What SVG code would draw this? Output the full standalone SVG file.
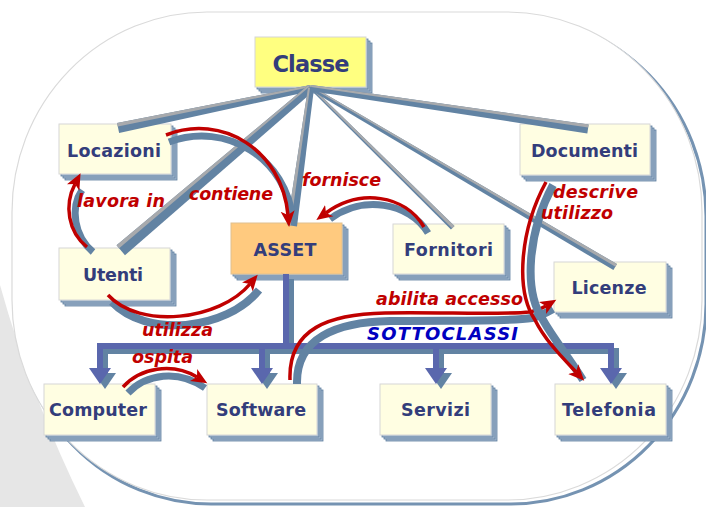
<svg xmlns="http://www.w3.org/2000/svg" width="706" height="507" viewBox="0 0 706 507">
<style>
.nb{fill:#fffee2;stroke:#d6d6d6;stroke-width:1}
.ns{fill:#a3b8cf;stroke:#5d7e9e;stroke-width:0.8}
.nt{font-family:"DejaVu Sans",Verdana,sans-serif;font-weight:bold;font-size:17.5px;fill:#333d7b;text-anchor:middle}
.rl{font-family:"DejaVu Sans",Verdana,sans-serif;font-weight:bold;font-style:italic;font-size:17.5px;fill:#c00000}
.rb{fill:#6283a3}
.rg{fill:#a8aaad}
.rd{fill:none;stroke:#c00000;stroke-width:3.5}
.sd{fill:none;stroke:#6283a3;stroke-width:7}
</style>
<defs>
<marker id="ah" markerUnits="userSpaceOnUse" markerWidth="18" markerHeight="16" viewBox="0 0 18 16" refX="4" refY="8" orient="auto">
<path d="M0,1 L16,8 L0,15 L4,8 Z" fill="#c00000"/>
</marker>
</defs>
<rect width="706" height="507" fill="#ffffff"/>
<path d="M0,285 Q32,400 85,507 L0,507 Z" fill="#e6e6e6"/>
<rect x="16" y="16" width="690" height="488" rx="195" ry="200" fill="none" stroke="#7593b2" stroke-width="3"/>
<rect x="12" y="12" width="690" height="488" rx="195" ry="200" fill="#ffffff" stroke="#dadada" stroke-width="1.2"/>

<g id="node-classe">
<rect class="ns" x="261" y="43" width="111" height="50"/><rect class="ns" x="259" y="41" width="111" height="50"/><rect class="ns" x="257" y="39" width="111" height="50"/>
<rect x="255" y="37" width="111" height="50" fill="#ffff80" stroke="#d6d6d6"/>
<text class="nt" x="311" y="72" style="font-size:22.5px" textLength="77">Classe</text>
</g>
<g id="node-locazioni">
<rect class="ns" x="65" y="130" width="112" height="50"/><rect class="ns" x="63" y="128" width="112" height="50"/><rect class="ns" x="61" y="126" width="112" height="50"/>
<rect class="nb" x="59" y="124" width="112" height="50"/>
<text class="nt" x="114" y="157" textLength="94">Locazioni</text>
</g>
<g id="node-utenti">
<rect class="ns" x="65" y="254" width="111" height="52"/><rect class="ns" x="63" y="252" width="111" height="52"/><rect class="ns" x="61" y="250" width="111" height="52"/>
<rect class="nb" x="59" y="248" width="111" height="52"/>
<text class="nt" x="113" y="281" textLength="60">Utenti</text>
</g>
<g id="node-asset">
<rect class="ns" x="237" y="229" width="111" height="51"/><rect class="ns" x="235" y="227" width="111" height="51"/><rect class="ns" x="233" y="225" width="111" height="51"/>
<rect x="231" y="223" width="111" height="51" fill="#ffca7f" stroke="#e0c090"/>
<text class="nt" x="285" y="256" textLength="63">ASSET</text>
</g>
<g id="node-fornitori">
<rect class="ns" x="399" y="230" width="111" height="50"/><rect class="ns" x="397" y="228" width="111" height="50"/><rect class="ns" x="395" y="226" width="111" height="50"/>
<rect class="nb" x="393" y="224" width="111" height="50"/>
<text class="nt" x="448.5" y="256" textLength="89">Fornitori</text>
</g>
<g id="node-documenti">
<rect class="ns" x="526" y="130" width="130" height="51"/><rect class="ns" x="524" y="128" width="130" height="51"/><rect class="ns" x="522" y="126" width="130" height="51"/>
<rect class="nb" x="520" y="124" width="130" height="51"/>
<text class="nt" x="584.5" y="157" textLength="107">Documenti</text>
</g>
<g id="node-licenze">
<rect class="ns" x="560" y="268" width="112" height="50"/><rect class="ns" x="558" y="266" width="112" height="50"/><rect class="ns" x="556" y="264" width="112" height="50"/>
<rect class="nb" x="554" y="262" width="112" height="50"/>
<text class="nt" x="609" y="294" textLength="75">Licenze</text>
</g>
<g id="node-computer">
<rect class="ns" x="50" y="390" width="111" height="51"/><rect class="ns" x="48" y="388" width="111" height="51"/><rect class="ns" x="46" y="386" width="111" height="51"/>
<rect class="nb" x="44" y="384" width="111" height="51"/>
<text class="nt" x="98" y="416" textLength="98">Computer</text>
</g>
<g id="node-software">
<rect class="ns" x="213" y="390" width="110" height="51"/><rect class="ns" x="211" y="388" width="110" height="51"/><rect class="ns" x="209" y="386" width="110" height="51"/>
<rect class="nb" x="207" y="384" width="110" height="51"/>
<text class="nt" x="261" y="416" textLength="90">Software</text>
</g>
<g id="node-servizi">
<rect class="ns" x="386" y="390" width="111" height="51"/><rect class="ns" x="384" y="388" width="111" height="51"/><rect class="ns" x="382" y="386" width="111" height="51"/>
<rect class="nb" x="380" y="384" width="111" height="51"/>
<text class="nt" x="435.5" y="416" textLength="69">Servizi</text>
</g>
<g id="node-telefonia">
<rect class="ns" x="561" y="390" width="111" height="51"/><rect class="ns" x="559" y="388" width="111" height="51"/><rect class="ns" x="557" y="386" width="111" height="51"/>
<rect class="nb" x="555" y="384" width="111" height="51"/>
<text class="nt" x="609" y="416" textLength="94">Telefonia</text>
</g>

<g id="connectors">
<g id="ray-locazioni" transform="translate(311,88) rotate(168.29)"><polygon class="rb" points="0,-3 197,-5 197,5 0,3"/><polygon class="rg" points="0,3 197,5 197,1.5 0,1"/></g>
<g id="ray-utenti" transform="translate(311,88) rotate(139.55)"><polygon class="rb" points="0,-4 250,-6.5 250,6.5 0,4"/><polygon class="rg" points="0,4 250,6.5 250,2.5 0,2"/></g>
<g id="ray-asset" transform="translate(311,88) rotate(97.84)"><polygon class="rb" points="0,-3 139,-5 139,5 0,3"/><polygon class="rg" points="0,3 139,5 139,1.5 0,1"/></g>
<g id="ray-fornitori" transform="translate(311,88) rotate(44.59)"><polygon class="rb" points="0,-1.5 199,-2.5 199,2.5 0,1.5"/><polygon class="rg" points="0,-1.5 199,-2.5 199,0.8 0,0.3"/></g>
<g id="ray-licenze" transform="translate(311,88) rotate(30.49)"><polygon class="rb" points="0,-2 353,-3.5 353,3.5 0,2"/><polygon class="rg" points="0,-2 353,-3.5 353,-0.5 0,-0.5"/></g>
<g id="ray-documenti" transform="translate(311,88) rotate(8.42)"><polygon class="rb" points="0,-3 280,-4.5 280,4.5 0,3"/><polygon class="rg" points="0,-3 280,-4.5 280,-1.5 0,-1"/></g>

<g id="sottoclassi-tree">
<g transform="translate(5,5)" fill="#6283a3">
<rect x="283" y="274" width="6" height="75"/><rect x="97" y="343" width="517" height="6"/>
<rect x="97" y="343" width="6" height="27"/><rect x="259" y="343" width="6" height="27"/><rect x="433" y="343" width="6" height="27"/><rect x="608" y="343" width="6" height="27"/>
<polygon points="89,368 111,368 100,384"/><polygon points="251,368 273,368 262,384"/><polygon points="425,368 447,368 436,384"/><polygon points="600,368 622,368 611,384"/>
</g>
<g fill="#5a67ad">
<rect x="283" y="274" width="6" height="75"/><rect x="97" y="343" width="517" height="6"/>
<rect x="97" y="343" width="6" height="27"/><rect x="259" y="343" width="6" height="27"/><rect x="433" y="343" width="6" height="27"/><rect x="608" y="343" width="6" height="27"/>
<polygon points="89,368 111,368 100,384"/><polygon points="251,368 273,368 262,384"/><polygon points="425,368 447,368 436,384"/><polygon points="600,368 622,368 611,384"/>
</g>
</g>

<g id="rel-contiene"><path class="sd" d="M169,142 C226,121 287,158 293,221"/><path class="rd" d="M166,135 C222,113 282,150 288,215" marker-end="url(#ah)"/></g>
<g id="rel-lavora-in"><path class="sd" d="M93,252 C74,236 70,208 82,190"/><path class="rd" d="M87,247 C68,232 64,205 75,184" marker-end="url(#ah)"/></g>
<g id="rel-fornisce"><path class="sd" d="M428,233 C409,202 362,195 330,219"/><path class="rd" d="M424,227 C405,195 360,188 326,213" marker-end="url(#ah)"/></g>
<g id="rel-utilizza"><path class="sd" style="stroke-width:8" d="M112,302 C146,338 226,331 259,290"/><path class="rd" d="M108,295 C140,330 220,320 250,284" marker-end="url(#ah)"/></g>
<g id="rel-ospita"><path class="sd" d="M128,393 C146,374 178,369 205,388"/><path class="rd" d="M123,387 C140,368 172,362 197,377" marker-end="url(#ah)"/></g>
<g id="rel-abilita"><path class="sd" style="stroke-width:8" d="M297,384 C296,338 336,322 390,321 C445,320 505,322 532,318 C540,316 546,313 553,309"/><path class="rd" d="M290,380 C288,328 330,314 385,313 C440,312 500,315 530,312 C536,311 541,309 546,306" marker-end="url(#ah)"/></g>
<g id="rel-descrive"><path class="sd" style="stroke-width:8" d="M553,185 C528,232 523,290 543,320 C553,338 568,356 583,380"/><path class="rd" d="M546,182 C520,230 515,290 535,320 C545,340 560,355 576,372" marker-end="url(#ah)"/></g>
</g>

<g id="labels">
<text class="rl" x="77" y="207" textLength="88">lavora in</text>
<text class="rl" x="189" y="200" textLength="84">contiene</text>
<text class="rl" x="302" y="186" textLength="79">fornisce</text>
<text class="rl" x="553" y="198" textLength="85">descrive</text>
<text class="rl" x="541" y="219" textLength="72">utilizzo</text>
<text class="rl" x="142" y="336" textLength="71">utilizza</text>
<text class="rl" x="132" y="363" textLength="61">ospita</text>
<text class="rl" x="376" y="305" textLength="147">abilita accesso</text>
<text x="367" y="340" textLength="151" style="font-family:'DejaVu Sans',Verdana,sans-serif;font-weight:bold;font-style:italic;font-size:18px;fill:#0000c0">SOTTOCLASSI</text>
</g>
</svg>
